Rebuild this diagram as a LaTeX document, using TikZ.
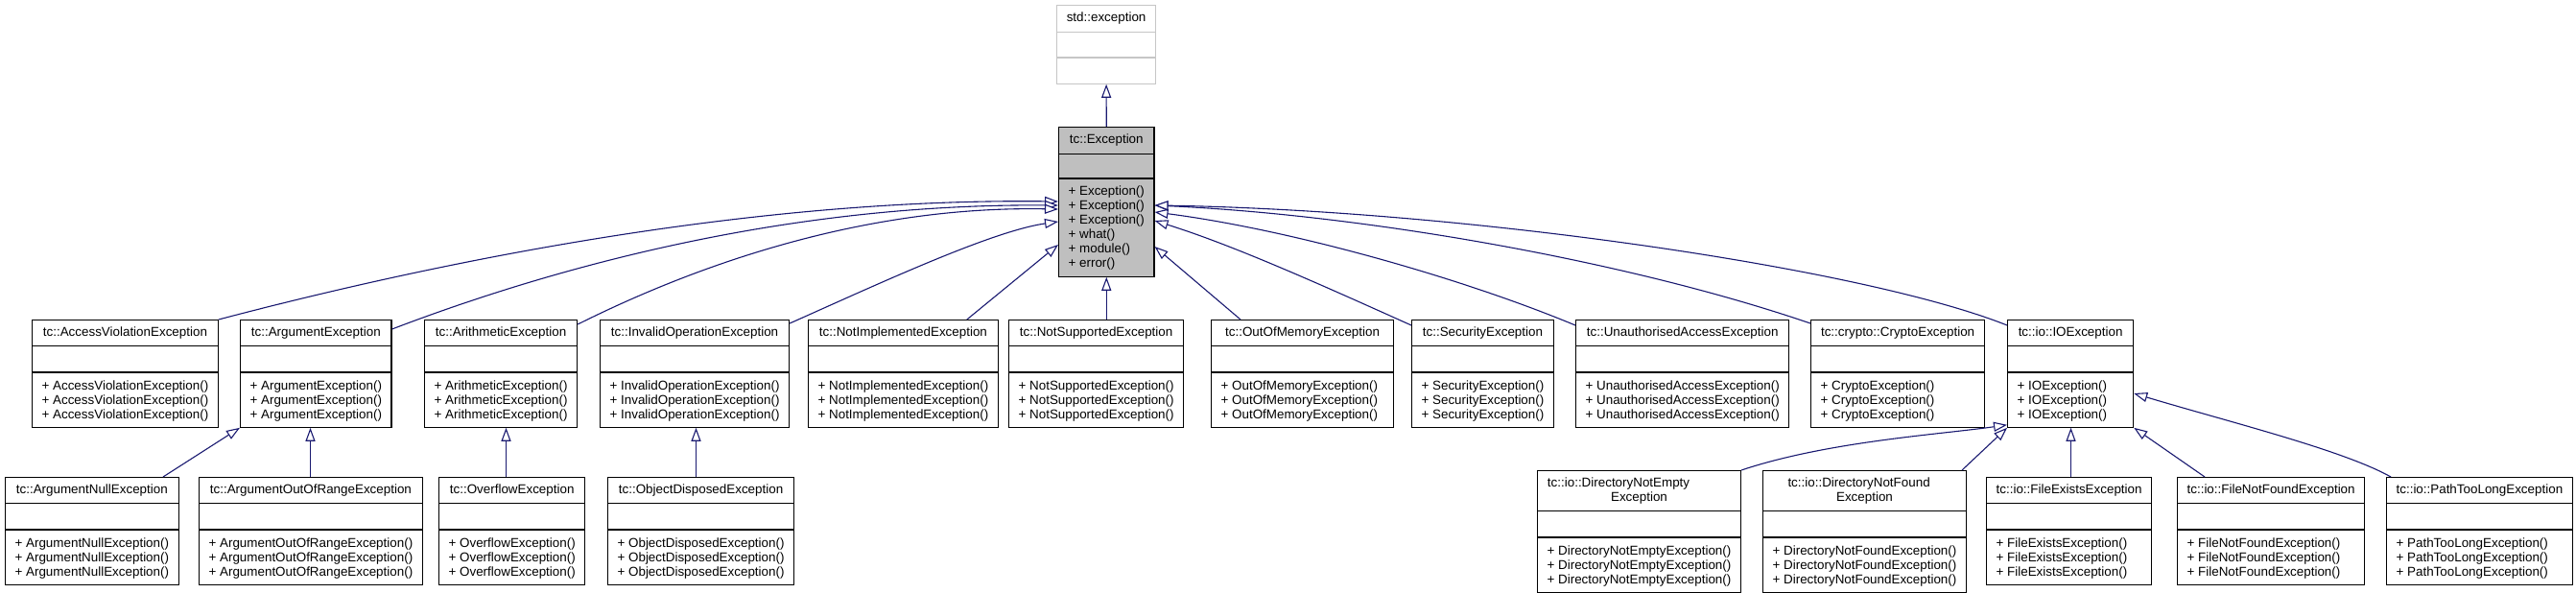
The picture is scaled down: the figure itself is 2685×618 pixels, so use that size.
\documentclass[tikz,border=0pt]{standalone}
\usepackage{fontspec}
\setmainfont{Liberation Sans}
\usetikzlibrary{shapes.multipart,arrows.meta}
\definecolor{edgeblue}{HTML}{191970}

\begin{document}
\begin{tikzpicture}[x=1pt, y=-1pt,
  cls/.style={rectangle split, rectangle split parts=3,
              rectangle split part align={center,center,left},
              draw, line width=1.2pt, fill=white, anchor=north west,
              inner xsep=10pt, inner ysep=0pt,
              font=\fontsize{13.4}{15}\selectfont},
  inh/.style={draw=edgeblue, line width=1.1pt,
              -{Triangle[length=14pt, width=10pt, fill=white]}}
]
  \useasboundingbox (0,0) rectangle (2685,618);

  % Base classes
  \node[cls, draw=gray!45, minimum width=103pt] (std) at (1101,5)
    {\rule[-11pt]{0pt}{27pt}std::exception
     \nodepart{two}\hspace*{1pt}\rule{0pt}{25pt}
     \nodepart{three}\hspace*{1pt}\rule{0pt}{26pt}};
  \node[cls, fill=gray!50, minimum width=99pt] (exc) at (1103,132)
    {\rule[-11pt]{0pt}{27pt}tc::Exception
     \nodepart{two}\hspace*{1pt}\rule{0pt}{24pt}
     \nodepart{three}\begin{tabular}{@{}l@{}}\rule{0pt}{17pt}+ Exception()\\+ Exception()\\+ Exception()\\
       + what()\\+ module()\\\rule[-9pt]{0pt}{9pt}+ error()\end{tabular}};
  \draw[inh] (exc.north) -- (std.south);

  % First level
  \foreach \n/\x/\w/\ns/\cn in {av/33/193/tc::/AccessViolationException,
      arg/250/154/tc::/ArgumentException, arith/442/159/tc::/ArithmeticException,
      invop/625/193/tc::/InvalidOperationException,
      notimpl/842/195/tc::/NotImplementedException,
      notsupp/1051/160/tc::/NotSupportedException,
      oom/1262/190/tc::/OutOfMemoryException, sec/1471/144/tc::/SecurityException,
      unauth/1642/220/tc::/UnauthorisedAccessException,
      crypto/1887/181/tc::crypto::/CryptoException, io/2092/131/tc::io::/IOException} {
    \node[cls, minimum width=\w pt] (\n) at (\x,333)
      {\rule[-10pt]{0pt}{26pt}\ns\cn
       \nodepart{two}\hspace*{1pt}\rule{0pt}{26pt}
       \nodepart{three}\begin{tabular}{@{}l@{}}\rule{0pt}{18pt}+ \cn()\\+ \cn()\\
         \rule[-8pt]{0pt}{8pt}+ \cn()\end{tabular}};
  }

  % Second level
  \foreach \n/\x/\w/\ns/\cn in {argnull/5/178/tc::/ArgumentNullException,
      argoor/207/227/tc::/ArgumentOutOfRangeException,
      ovf/457/149/tc::/OverflowException, objdisp/633/193/tc::/ObjectDisposedException,
      fe/2070/172/tc::io::/FileExistsException, fnf/2269/195/tc::io::/FileNotFoundException,
      ptl/2487/189/tc::io::/PathTooLongException} {
    \node[cls, minimum width=\w pt] (\n) at (\x,497)
      {\rule[-10pt]{0pt}{26pt}\ns\cn
       \nodepart{two}\hspace*{1pt}\rule{0pt}{26pt}
       \nodepart{three}\begin{tabular}{@{}l@{}}\rule{0pt}{18pt}+ \cn()\\+ \cn()\\
         \rule[-8pt]{0pt}{8pt}+ \cn()\end{tabular}};
  }
  \foreach \n/\x/\w/\pw/\cn in {dne/1602/211/191/DirectoryNotEmpty,
      dnf/1837/180/160/DirectoryNotFound} {
    \node[cls, minimum width=\w pt] (\n) at (\x,490)
      {\parbox{\pw pt}{\rule{0pt}{16pt}tc::io::\cn\par\centering Exception\rule[-10pt]{0pt}{10pt}\par}
       \nodepart{two}\hspace*{1pt}\rule{0pt}{26pt}
       \nodepart{three}\begin{tabular}{@{}l@{}}\rule{0pt}{18pt}+ \cn Exception()\\+ \cn Exception()\\
         \rule[-8pt]{0pt}{8pt}+ \cn Exception()\end{tabular}};
  }

  % Inheritance to tc::Exception, left side
  \draw[inh] (av.north east) .. controls +(190,-50) and +(-343,-4) .. ([yshift=-78pt]exc.north west);
  \draw[inh] ([yshift=-10pt]arg.north east) .. controls +(170,-65) and +(-283,-2) .. ([yshift=-82pt]exc.north west);
  \draw[inh] ([yshift=-5pt]arith.north east) .. controls +(100,-50) and +(-220,-4) .. ([yshift=-86pt]exc.north west);
  \draw[inh] ([yshift=-4pt]invop.north east) .. controls +(90,-40) and +(-70,10) .. ([yshift=-99pt]exc.north west);
  \draw[inh] ([xshift=-33pt]notimpl.north east) -- ([yshift=-123pt]exc.north west);
  \draw[inh] (exc.south |- notsupp.north) -- (exc.south);

  % Inheritance to tc::Exception, right side
  \draw[inh] ([xshift=31pt]oom.north west) -- ([yshift=-125pt]exc.north east);
  \draw[inh] ([yshift=-6pt]sec.north west) .. controls +(-100,-45) and +(80,25) .. ([yshift=-98pt]exc.north east);
  \draw[inh] ([yshift=-6pt]unauth.north west) .. controls +(-120,-50) and +(140,18) .. ([yshift=-89pt]exc.north east);
  \draw[inh] ([yshift=-4pt]crypto.north west) .. controls +(-190,-65) and +(220,10) .. ([yshift=-82pt]exc.north east);
  \draw[inh] ([yshift=-6pt]io.north west) .. controls +(-150,-60) and +(320,5) .. ([yshift=-82pt]exc.north east);

  % Second level inheritance
  \draw[inh] ([xshift=165pt]argnull.north west) -- (arg.south west);
  \draw[inh] ([xshift=116.5pt]argoor.north west) -- ([xshift=73.5pt]arg.south west);
  \draw[inh] ([xshift=70.5pt]ovf.north west) -- ([xshift=85.5pt]arith.south west);
  \draw[inh] ([xshift=92.5pt]objdisp.north west) -- ([xshift=100.5pt]invop.south west);
  \draw[inh] (dne.north east) .. controls +(90,-30) and +(-70,10) .. ([yshift=3pt]io.south west);
  \draw[inh] ([xshift=-5pt]dnf.north east) -- (io.south west);
  \draw[inh] ([xshift=88.5pt]fe.north west) -- ([xshift=66.5pt]io.south west);
  \draw[inh] ([xshift=29pt]fnf.north west) -- (io.south east);
  \draw[inh] ([xshift=5pt]ptl.north west) .. controls +(-50,-28) and +(100,30) .. ([yshift=-77pt]io.north east);
\end{tikzpicture}
\end{document}
